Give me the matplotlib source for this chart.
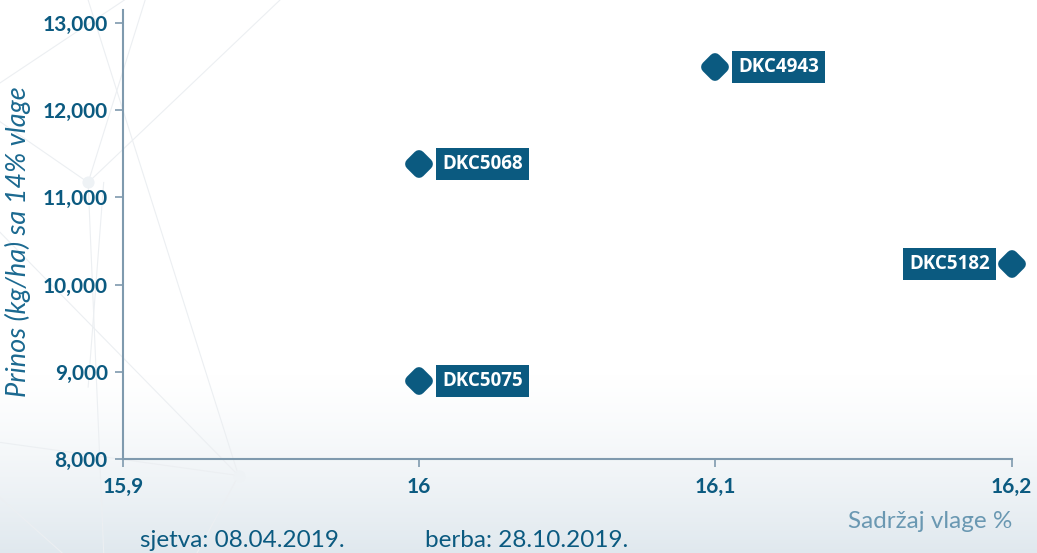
import numpy as np
import matplotlib
matplotlib.use("Agg")
import matplotlib.pyplot as plt
from matplotlib.markers import MarkerStyle
from matplotlib.ticker import FuncFormatter

# data
hybrids = ["DKC4943", "DKC5068", "DKC5182", "DKC5075"]
moisture = [16.1, 16.0, 16.2, 16.0]
yield_kg = [12500, 11380, 10240, 8900]
label_side = ["right", "right", "left", "right"]

x_ticks = [15.9, 16.0, 16.1, 16.2]
y_ticks = [8000, 9000, 10000, 11000, 12000, 13000]

DARK = "#0b5a80"
SPINE = "#7f9aae"

plt.rcParams["font.family"] = ["Lato", "DejaVu Sans"]

fig = plt.figure(figsize=(10.37, 5.53), dpi=100)

# background: white fading into a pale blue-grey at the bottom, with faint network lines
bg = fig.add_axes([0, 0, 1, 1], zorder=-10)
t = np.linspace(0, 1, 200)
grad = (np.clip((t - 0.68) / 0.32, 0, 1) ** 1.3)[:, None]
top = np.array([1.0, 1.0, 1.0])
bottom = np.array([0.88, 0.912, 0.935])
img = top[None, None, :] * (1 - grad[:, :, None]) + bottom[None, None, :] * grad[:, :, None]
bg.imshow(img, aspect="auto", extent=[0, 1, 1, 0], interpolation="bilinear")
bg.set_xlim(0, 1)
bg.set_ylim(1, 0)
net = [((0.0, 0.42), (0.23, 0.86)), ((0.23, 0.86), (0.085, 0.0)), ((0.085, 0.33), (0.14, 0.0)),
       ((0.085, 0.33), (0.0, 0.22)), ((0.085, 0.33), (0.27, 0.0)), ((0.085, 0.33), (0.1, 1.0)),
       ((0.0, 0.8), (0.23, 0.86)), ((0.23, 0.86), (0.19, 1.0)), ((0.0, 0.9), (0.06, 1.0)),
       ((0.0, 0.15), (0.12, 0.0)), ((0.085, 0.7), (0.1, 0.33))]
for (x0, y0), (x1, y1) in net:
    bg.plot([x0, x1], [y0, y1], color="#eceff2", lw=0.8)
bg.scatter([0.085, 0.23], [0.33, 0.86], s=60, color="#eef2f5", zorder=2)
bg.axis("off")

ax = fig.add_axes([0.1186, 0.170, 0.857, 0.812])
ax.patch.set_alpha(0)
ax.set_xlim(15.9, 16.2)
ax.set_ylim(8000, 13150)

# rounded diamonds: small diamond path with a thick, round-joined outline
ax.plot(moisture, yield_kg, ls="none", marker=MarkerStyle("D", joinstyle="round"),
        ms=8.5, mew=8.5, color=DARK, mec=DARK, zorder=5, clip_on=False)

for name, x, y, side in zip(hybrids, moisture, yield_kg, label_side):
    if side == "right":
        off, ha = (16.5, 0), "left"
    else:
        off, ha = (-15.5, 0), "right"
    ax.annotate(name, (x, y), xytext=off, textcoords="offset points", ha=ha, va="center",
                color="white", fontsize=13.5, fontweight="bold", family=["Open Sans", "DejaVu Sans"],
                bbox=dict(boxstyle="square,pad=0.32", fc=DARK, ec="none"), zorder=6,
                annotation_clip=False)

ax.set_xticks(x_ticks)
ax.set_yticks(y_ticks)
ax.xaxis.set_major_formatter(FuncFormatter(lambda v, p: f"{v:g}".replace(".", ",")))
ax.yaxis.set_major_formatter(FuncFormatter(lambda v, p: f"{int(v):,}"))
ax.tick_params(axis="both", colors=SPINE, length=6, width=1.2, labelcolor=DARK, labelsize=15)
ax.tick_params(axis="x", pad=7)
ax.tick_params(axis="y", pad=5)
for lbl in ax.get_xticklabels() + ax.get_yticklabels():
    lbl.set_fontweight("bold")

for s in ["top", "right"]:
    ax.spines[s].set_visible(False)
for s in ["left", "bottom"]:
    ax.spines[s].set_color(SPINE)
    ax.spines[s].set_linewidth(1.5)

ax.set_ylabel("Prinos (kg/ha) sa 14% vlage", fontsize=19.5, color="#1b6990", style="italic")
ax.yaxis.set_label_coords(-0.104, 0.485)

fig.text(0.976, 0.057, "Sadržaj vlage %", ha="right", va="center", fontsize=17.5, color="#6a98b2")
fig.text(0.135, 0.022, "sjetva: 08.04.2019.", ha="left", va="center", fontsize=17.5, color=DARK)
fig.text(0.41, 0.022, "berba: 28.10.2019.", ha="left", va="center", fontsize=17.5, color=DARK)

fig.savefig("out.png", dpi=100)
